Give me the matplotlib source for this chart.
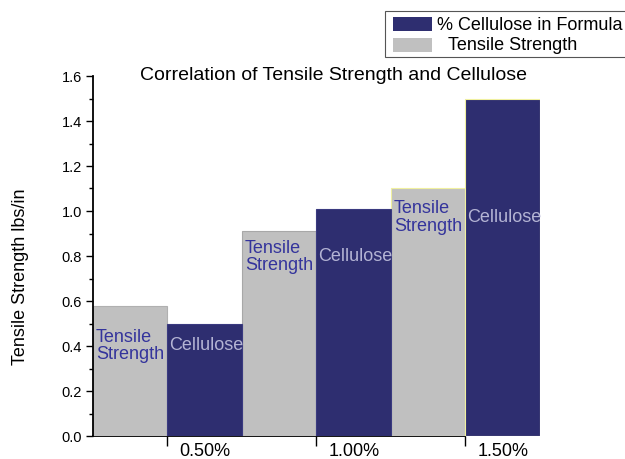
import matplotlib
matplotlib.use("Agg")
import matplotlib.pyplot as plt
from matplotlib.patches import Rectangle

plt.rcParams['font.family'] = ['Liberation Sans', 'DejaVu Sans']

categories = ["0.50%", "1.00%", "1.50%"]
tensile = [0.58, 0.91, 1.10]
cellulose = [0.50, 1.01, 1.50]
label_y = [0.405, 0.80, 0.975]

navy = "#2E2E70"
gray = "#C0C0C0"

fig = plt.figure(figsize=(6.25, 4.6), dpi=100)
ax = fig.add_axes([93/625, 1-437/460, (540-93)/625, (437-77)/460])

gx = [2*i for i in range(len(categories))]
cx = [2*i + 1 for i in range(len(categories))]
edges_g = ["#B0B0B0", "#A8A8A8", "#F0F0A0"]
edges_c = ["#3A3A80", "#3A3A80", "#F0F0A0"]
ax.bar(gx, tensile, width=1, align='edge', color=gray, edgecolor=edges_g, linewidth=0.8, zorder=3)
ax.bar(cx, cellulose, width=1, align='edge', color=navy, edgecolor=edges_c, linewidth=0.8, zorder=3)

for i in range(len(categories)):
    ax.text(gx[i] + 0.04, label_y[i], "Tensile\nStrength", color="#34349C", fontsize=13,
            ha='left', va='center', linespacing=1.05, zorder=4)
    ax.text(cx[i] + 0.02, label_y[i], "Cellulose", color="#B4B4D4", fontsize=13,
            ha='left', va='center', zorder=4)

ax.set_xlim(0, 6)
ax.set_ylim(0, 1.6)
ax.set_yticks([0.0, 0.2, 0.4, 0.6, 0.8, 1.0, 1.2, 1.4, 1.6])
ax.set_yticks([0.1*k for k in range(17)], minor=True)
ax.yaxis.set_major_formatter(matplotlib.ticker.FormatStrFormatter('%.1f'))
ax.tick_params(axis='y', which='major', direction='out', length=5, width=1, labelsize=10.5, pad=3)
ax.tick_params(axis='y', which='minor', direction='out', length=3, width=1)

ax.set_xticks(cx)
ax.set_xticklabels([])
ax.set_xticks([c + 0.5 for c in cx], minor=True)
ax.set_xticklabels(categories, minor=True)
ax.tick_params(axis='x', which='major', direction='out', length=7, width=1)
ax.tick_params(axis='x', which='minor', length=0, labelsize=13, pad=4)

for s in ['top', 'right']:
    ax.spines[s].set_visible(False)
ax.spines['left'].set_linewidth(1.3)
ax.spines['bottom'].set_linewidth(1.3)
ax.spines['bottom'].set_bounds(0, 5)
ax.spines['left'].set_zorder(5)

fig.text(21/625, 1-277/460, "Tensile Strength lbs/in", fontsize=13, rotation=90,
         ha='center', va='center')

fig.text(334/625, 1-75/460, "Correlation of Tensile Strength and Cellulose",
         fontsize=14, ha='center', va='center')

# legend box
fig.patches.append(Rectangle((385/625, 1-58/460), 245/625, 46/460, transform=fig.transFigure,
                             facecolor='white', edgecolor='#555555', linewidth=0.8))
fig.patches.append(Rectangle((393/625, 1-32/460), 39/625, 14/460, transform=fig.transFigure,
                             facecolor=navy, edgecolor='none'))
fig.patches.append(Rectangle((393/625, 1-53/460), 39/625, 14/460, transform=fig.transFigure,
                             facecolor=gray, edgecolor='none'))
fig.text(437/625, 1-25/460, "% Cellulose in Formula", fontsize=13, ha='left', va='center')
fig.text(448/625, 1-46/460, "Tensile Strength", fontsize=13, ha='left', va='center')

fig.savefig("out.png", dpi=100)
